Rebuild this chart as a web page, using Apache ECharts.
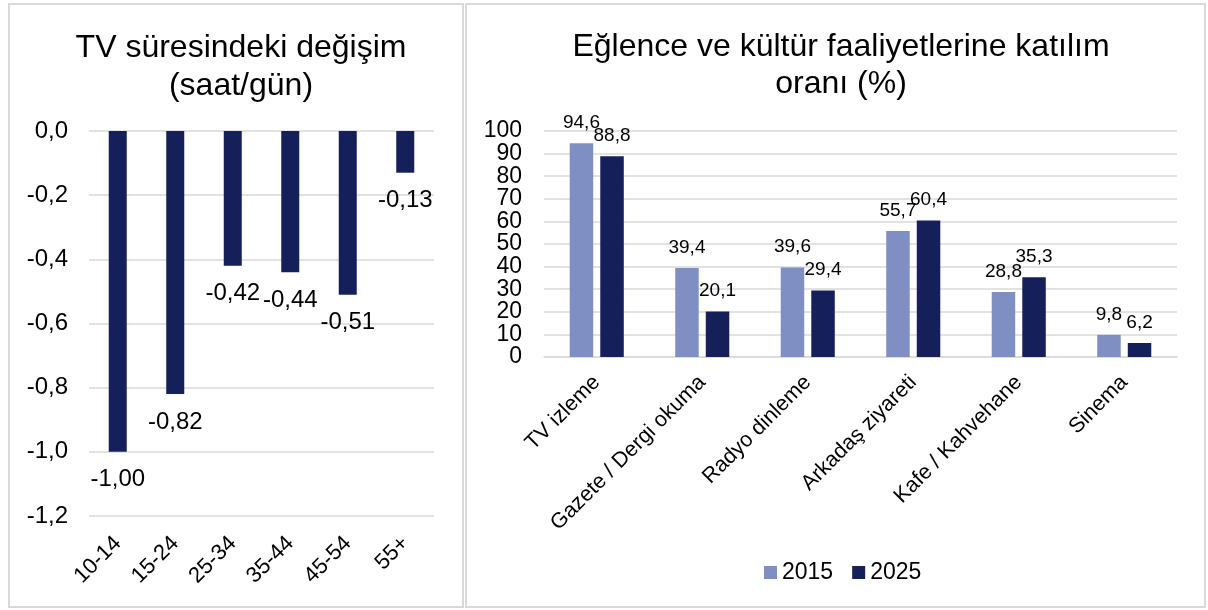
<!DOCTYPE html>
<html>
<head>
<meta charset="utf-8">
<script src="https://cdn.jsdelivr.net/npm/echarts@6/dist/echarts.min.js"></script>
<style>
html,body{margin:0;padding:0;background:#fff;}
#c{width:1208px;height:610px;}
</style>
</head>
<body>
<div id="c"></div>
<script>
// Left chart data
const ageGroups = ['10-14', '15-24', '25-34', '35-44', '45-54', '55+'];
const tvChange = [-1.00, -0.82, -0.42, -0.44, -0.51, -0.13];

// Right chart data
const activities = ['TV izleme', 'Gazete / Dergi okuma', 'Radyo dinleme', 'Arkadaş ziyareti', 'Kafe / Kahvehane', 'Sinema'];
const values2015 = [94.6, 39.4, 39.6, 55.7, 28.8, 9.8];
const values2025 = [88.8, 20.1, 29.4, 60.4, 35.3, 6.2];
const seriesNames = ['2015', '2025'];
// Right chart y tick labels (0..100 step 10)
const rightTicks = ['0', '10', '20', '30', '40', '50', '60', '70', '80', '90', '100'];

const FONT = 'Liberation Sans, Arial, sans-serif';
const DARK = '#151f5a';
const LIGHT = '#7f8fc4';
const GRID = '#d9d9d9';

const chart = echarts.init(document.getElementById('c'), null, {renderer: 'canvas'});

const comma = (v, d) => v.toFixed(d).replace('.', ',');

chart.setOption({
  animation: false,
  backgroundColor: '#fff',
  textStyle: {fontFamily: FONT, color: '#000'},
  graphic: [
    {type: 'rect', shape: {x: 9, y: 4, width: 454, height: 603}, style: {fill: 'none', stroke: GRID, lineWidth: 2}, z: -1},
    {type: 'rect', shape: {x: 466, y: 4, width: 739, height: 603}, style: {fill: 'none', stroke: GRID, lineWidth: 2}, z: -1}
  ],
  title: [
    {
      text: 'TV süresindeki değişim\n(saat/gün)',
      left: 236, top: 24, textAlign: 'center',
      textStyle: {fontFamily: FONT, fontSize: 32, fontWeight: 'normal', color: '#000', lineHeight: 38}
    },
    {
      text: 'Eğlence ve kültür faaliyetlerine katılım\noranı (%)',
      left: 836, top: 24, textAlign: 'center',
      textStyle: {fontFamily: FONT, fontSize: 32, fontWeight: 'normal', color: '#000', lineHeight: 37}
    }
  ],
  legend: {
    data: seriesNames,
    left: 759, top: 556,
    itemWidth: 13, itemHeight: 13, itemGap: 19,
    icon: 'rect',
    textStyle: {fontFamily: FONT, fontSize: 23, color: '#000'}
  },
  grid: [
    {left: 89, right: 1208 - 434, top: 131, bottom: 610 - 516},
    {left: 544, right: 1208 - 1177, top: 131, bottom: 610 - 357}
  ],
  xAxis: [
    {
      gridIndex: 0, type: 'category', data: ageGroups, position: 'bottom',
      axisLine: {show: false}, axisTick: {show: false},
      axisLabel: {rotate: 45, fontSize: 22, color: '#000', fontFamily: FONT, margin: 24, interval: 0}
    },
    {
      gridIndex: 1, type: 'category', data: activities,
      axisLine: {show: true, lineStyle: {color: GRID, width: 1.5}}, axisTick: {show: false},
      axisLabel: {rotate: 45, fontSize: 21.5, color: '#000', fontFamily: FONT, margin: 22, interval: 0}
    }
  ],
  yAxis: [
    {
      gridIndex: 0, type: 'value', min: -1.2, max: 0, interval: 0.2,
      axisLine: {show: false}, axisTick: {show: false},
      splitLine: {lineStyle: {color: GRID, width: 1.5}},
      axisLabel: {fontSize: 24, color: '#000', fontFamily: FONT, margin: 21, formatter: v => comma(v, 1)}
    },
    {
      gridIndex: 1, type: 'value', min: 0, max: 100, interval: 10,
      axisLine: {show: false}, axisTick: {show: false},
      splitLine: {lineStyle: {color: GRID, width: 1.5}},
      axisLabel: {show: false}
    },
    {
      gridIndex: 1, type: 'category', data: rightTicks, boundaryGap: false, position: 'left',
      axisLine: {show: false}, axisTick: {show: false}, splitLine: {show: false},
      axisLabel: {interval: 0, fontSize: 23, color: '#000', fontFamily: FONT, margin: 22}
    }
  ],
  series: [
    {
      type: 'bar', xAxisIndex: 0, yAxisIndex: 0, data: tvChange,
      barWidth: 18, itemStyle: {color: DARK},
      label: {show: true, position: 'bottom', distance: 16, fontSize: 24, color: '#000', fontFamily: FONT,
        formatter: p => comma(p.value, 2)}
    },
    {
      name: seriesNames[0], type: 'bar', xAxisIndex: 1, yAxisIndex: 1, data: values2015,
      barWidth: 23.5, barGap: '30%', itemStyle: {color: LIGHT},
      label: {show: true, position: 'top', distance: 11, fontSize: 19, color: '#000', fontFamily: FONT,
        formatter: p => comma(p.value, 1)}
    },
    {
      name: seriesNames[1], type: 'bar', xAxisIndex: 1, yAxisIndex: 1, data: values2025,
      barWidth: 23.5, barGap: '30%', itemStyle: {color: DARK},
      label: {show: true, position: 'top', distance: 11, fontSize: 19, color: '#000', fontFamily: FONT,
        formatter: p => comma(p.value, 1)}
    }
  ]
});
</script>
</body>
</html>
